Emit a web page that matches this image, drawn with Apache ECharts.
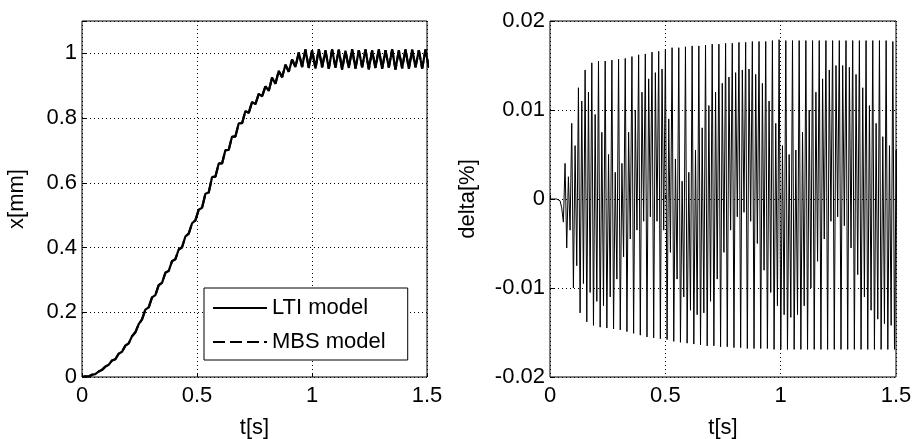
<!DOCTYPE html>
<html>
<head>
<meta charset="utf-8">
<script src="https://cdn.jsdelivr.net/npm/echarts@6/dist/echarts.min.js"></script>
<style>
html,body{margin:0;padding:0;background:#fff;}
#chart{width:914px;height:439px;}
</style>
</head>
<body>
<div id="chart"></div>
<script>
// sampling steps of the recorded signals [s]
const xStep = 0.0145;
const deltaStep = 0.00725;

// x[mm] – LTI model (sampled every xStep from t = 0)
const ltiX = [
 0, 0.0018, 0.0015, 0.007, 0.009, 0.017, 0.022, 0.032, 0.038, 0.051,
 0.055, 0.072, 0.078, 0.097, 0.104, 0.126, 0.138, 0.163, 0.178, 0.208,
 0.215, 0.246, 0.253, 0.284, 0.291, 0.322, 0.328, 0.358, 0.364, 0.394,
 0.401, 0.434, 0.443, 0.475, 0.484, 0.517, 0.523, 0.566, 0.570, 0.618,
 0.619, 0.660, 0.660, 0.701, 0.702, 0.743, 0.743, 0.784, 0.784, 0.822,
 0.816, 0.850, 0.843, 0.875, 0.867, 0.898, 0.884, 0.925, 0.906, 0.946,
 0.926, 0.965, 0.943, 0.981, 0.958, 1.003, 0.958, 1.012, 0.955, 1.010,
 0.953, 1.013, 0.957, 1.009, 0.952, 1.012, 0.956, 1.011, 0.950, 1.008,
 0.955, 1.013, 0.953, 1.010, 0.957, 1.012, 0.951, 1.009, 0.955, 1.013,
 0.952, 1.010, 0.956, 1.012, 0.950, 1.009, 0.954, 1.013, 0.952, 1.011,
 0.957, 1.010, 0.953, 1.012, 0.955
];
// x[mm] – MBS model (coincides with the LTI curve at this scale)
const mbsX = [
 0, 0.0018, 0.0015, 0.007, 0.009, 0.017, 0.022, 0.032, 0.038, 0.051,
 0.055, 0.072, 0.078, 0.097, 0.104, 0.126, 0.138, 0.163, 0.178, 0.208,
 0.215, 0.246, 0.253, 0.284, 0.291, 0.322, 0.328, 0.358, 0.364, 0.394,
 0.401, 0.434, 0.443, 0.475, 0.484, 0.517, 0.523, 0.566, 0.570, 0.618,
 0.619, 0.660, 0.660, 0.701, 0.702, 0.743, 0.743, 0.784, 0.784, 0.822,
 0.816, 0.850, 0.843, 0.875, 0.867, 0.898, 0.884, 0.925, 0.906, 0.946,
 0.926, 0.965, 0.943, 0.981, 0.958, 1.003, 0.958, 1.012, 0.955, 1.010,
 0.953, 1.013, 0.957, 1.009, 0.952, 1.012, 0.956, 1.011, 0.950, 1.008,
 0.955, 1.013, 0.953, 1.010, 0.957, 1.012, 0.951, 1.009, 0.955, 1.013,
 0.952, 1.010, 0.956, 1.012, 0.950, 1.009, 0.954, 1.013, 0.952, 1.011,
 0.957, 1.010, 0.953, 1.012, 0.955
];
// delta[%] between the models (sampled every deltaStep from t = 0)
const deltaPct = [
 0, 0, 0, 0, 0, 0, -0.0002, -0.0010, -0.0026,
 0.0040, -0.0055, 0.0025, -0.0035,
 0.0085, -0.0100, 0.0060, -0.0075,
 0.0125, -0.0128, 0.0110, -0.0095,
 0.0145, -0.0138, 0.0120, -0.0105,
 0.0153, -0.0142, 0.0095, -0.0115,
 0.0155, -0.0144, 0.0075, -0.0120,
 0.0155, -0.0145, 0.0050, -0.0110,
 0.0156, -0.0146, 0.0030, -0.0090,
 0.0157, -0.0147, 0.0040, -0.0065,
 0.0158, -0.0149, 0.0075, -0.0045,
 0.0160, -0.0151, 0.0100, -0.0035,
 0.0162, -0.0153, 0.0120, -0.0025,
 0.0163, -0.0155, 0.0135, -0.0020,
 0.0165, -0.0156, 0.0142, -0.0025,
 0.0166, -0.0157, 0.0146, -0.0035,
 0.0168, -0.0158, 0.0090, -0.0060,
 0.0170, -0.0160, 0.0045, -0.0090,
 0.0170, -0.0161, 0.0020, -0.0110,
 0.0171, -0.0162, 0.0030, -0.0125,
 0.0172, -0.0163, 0.0055, -0.0130,
 0.0172, -0.0164, 0.0080, -0.0128,
 0.0173, -0.0165, 0.0105, -0.0115,
 0.0174, -0.0165, 0.0120, -0.0090,
 0.0174, -0.0166, 0.0130, -0.0060,
 0.0175, -0.0166, 0.0137, -0.0035,
 0.0175, -0.0167, 0.0142, -0.0020,
 0.0176, -0.0167, 0.0145, -0.0015,
 0.0176, -0.0168, 0.0146, -0.0025,
 0.0177, -0.0168, 0.0140, -0.0050,
 0.0177, -0.0168, 0.0130, -0.0080,
 0.0177, -0.0168, 0.0110, -0.0105,
 0.0178, -0.0169, 0.0085, -0.0120,
 0.0179, -0.0169, 0.0060, -0.0130,
 0.0178, -0.0169, 0.0050, -0.0133,
 0.0178, -0.0169, 0.0055, -0.0130,
 0.0178, -0.0169, 0.0075, -0.0120,
 0.0178, -0.0169, 0.0100, -0.0100,
 0.0178, -0.0169, 0.0120, -0.0070,
 0.0178, -0.0169, 0.0135, -0.0045,
 0.0178, -0.0169, 0.0145, -0.0025,
 0.0178, -0.0169, 0.0150, -0.0020,
 0.0178, -0.0169, 0.0150, -0.0030,
 0.0178, -0.0169, 0.0148, -0.0055,
 0.0178, -0.0169, 0.0140, -0.0085,
 0.0178, -0.0169, 0.0125, -0.0110,
 0.0178, -0.0169, 0.0105, -0.0125,
 0.0178, -0.0169, 0.0085, -0.0135,
 0.0178, -0.0169, 0.0070, -0.0140,
 0.0178, -0.0169, 0.0060, -0.0142,
 0.0177, -0.0169, 0.0055, -0.0140
];

const timeTicks = [0, 0.5, 1, 1.5];
const xTicks = [0, 0.2, 0.4, 0.6, 0.8, 1];
const deltaTicks = [-0.02, -0.01, 0, 0.01, 0.02];
const seriesNames = ['LTI model', 'MBS model'];
const axisNames = { time: 't[s]', x: 'x[mm]', delta: 'delta[%]' };

const toPairs = (arr, step) => arr.map((v, i) => [i * step, v]);

const FONT = 'Liberation Sans';
const FS = 22;
const near = (list, v) => list.some(t => Math.abs(t - v) < 1e-9);
const fmt = list => v => near(list, v) ? String(Number(v.toFixed(6))) : '';
const gridLine = { show: true, lineStyle: { color: '#000', type: [1, 3], width: 1 } };
const tickStyle = { show: true, inside: true, length: 4, lineStyle: { color: '#000' } };

function xAxisCfg(gridIndex) {
  return {
    type: 'value', gridIndex, min: 0, max: 1.5, interval: 0.5,
    name: axisNames.time, nameLocation: 'middle', nameGap: 40,
    nameTextStyle: { fontFamily: FONT, fontSize: FS, color: '#000' },
    axisLine: { show: false },
    axisTick: tickStyle,
    axisLabel: { fontFamily: FONT, fontSize: FS, color: '#000', margin: 8, formatter: fmt(timeTicks) },
    splitLine: gridLine
  };
}
function yAxisCfg(gridIndex, min, max, interval, ticks, name, gap) {
  return {
    type: 'value', gridIndex, min, max, interval,
    name, nameLocation: 'middle', nameGap: gap,
    nameTextStyle: { fontFamily: FONT, fontSize: FS, color: '#000' },
    axisLine: { show: false },
    axisTick: tickStyle,
    axisLabel: { fontFamily: FONT, fontSize: FS, color: '#000', margin: 5, formatter: fmt(ticks) },
    splitLine: gridLine
  };
}

const gridBase = { top: 21, bottom: 62, show: true, borderColor: '#000', borderWidth: 1,
  backgroundColor: 'transparent', containLabel: false, outerBoundsMode: 'none' };

const chart = echarts.init(document.getElementById('chart'), null, { renderer: 'canvas' });
chart.setOption({
  animation: false,
  backgroundColor: '#fff',
  textStyle: { fontFamily: FONT },
  grid: [
    Object.assign({ left: 82, right: 487 }, gridBase),
    Object.assign({ left: 550, right: 18 }, gridBase)
  ],
  xAxis: [xAxisCfg(0), xAxisCfg(1)],
  yAxis: [
    yAxisCfg(0, 0, 1.1, 0.2, xTicks, axisNames.x, 54),
    yAxisCfg(1, -0.02, 0.02, 0.01, deltaTicks, axisNames.delta, 71)
  ],
  legend: {
    orient: 'vertical', left: 204, top: 288,
    data: seriesNames,
    backgroundColor: '#fff', borderColor: '#000', borderWidth: 1,
    padding: [9, 22, 7, 8],
    itemWidth: 54, itemHeight: 14, itemGap: 12,
    itemStyle: { opacity: 0 },
    textStyle: { fontFamily: FONT, fontSize: FS, color: '#000' }
  },
  series: [
    { name: seriesNames[0], type: 'line', xAxisIndex: 0, yAxisIndex: 0, data: toPairs(ltiX, xStep),
      symbol: 'none', lineStyle: { color: '#000', width: 2.2, type: 'solid' }, itemStyle: { color: '#000' } },
    { name: seriesNames[1], type: 'line', xAxisIndex: 0, yAxisIndex: 0, data: toPairs(mbsX, xStep),
      symbol: 'none', lineStyle: { color: '#000', width: 2.2, type: [12, 5] }, itemStyle: { color: '#000' } },
    { name: 'delta', type: 'line', xAxisIndex: 1, yAxisIndex: 1, data: toPairs(deltaPct, deltaStep),
      symbol: 'none', lineStyle: { color: '#000', width: 1 }, itemStyle: { color: '#000' } }
  ]
});
</script>
</body>
</html>
